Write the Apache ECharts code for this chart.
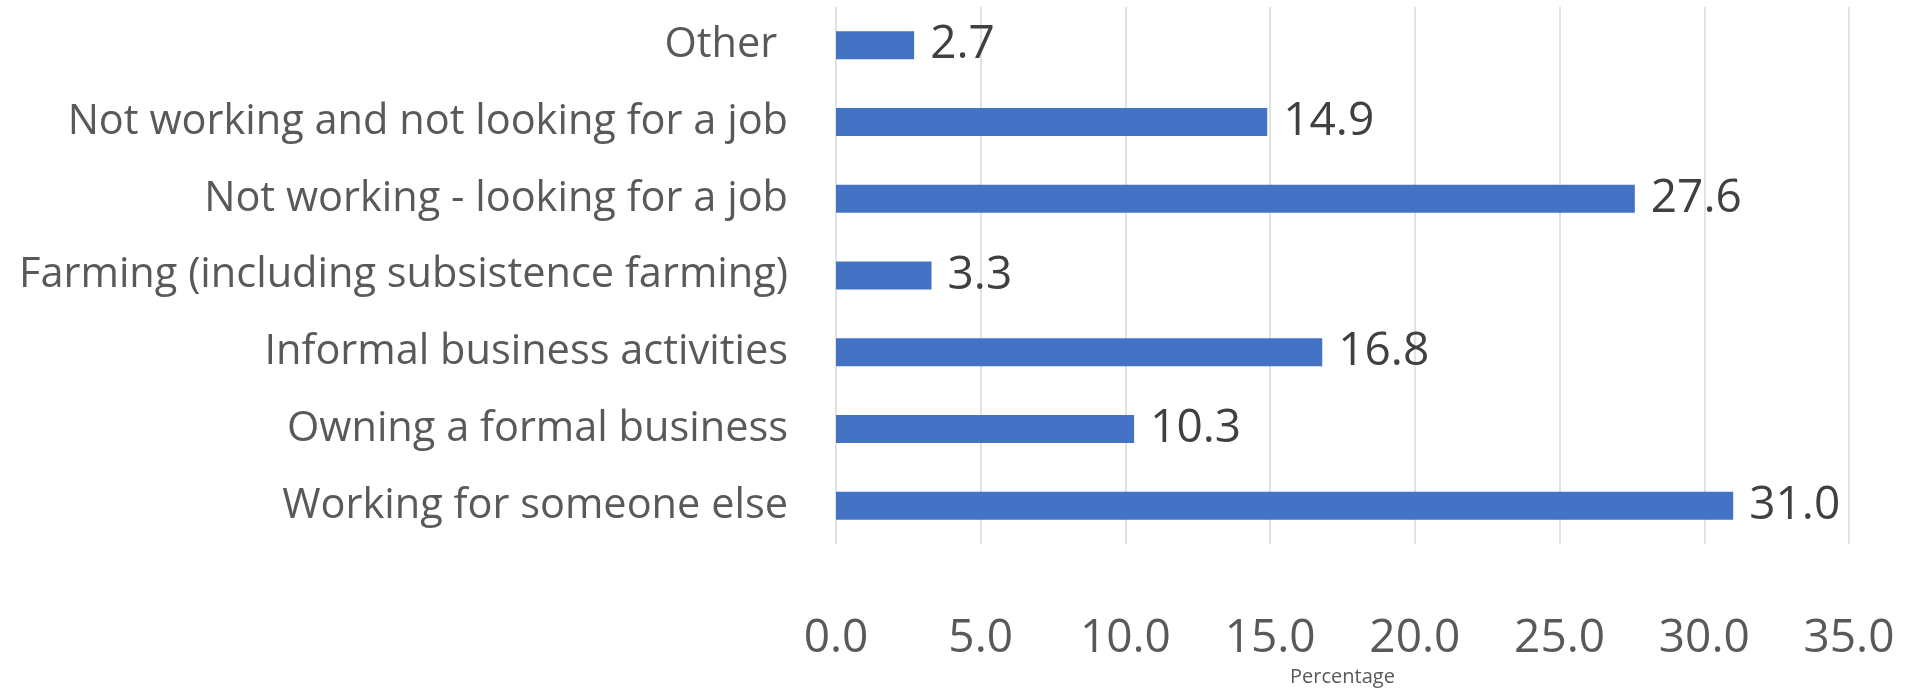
<!DOCTYPE html>
<html><head><meta charset="utf-8">
<script src="https://cdn.jsdelivr.net/npm/echarts@6/dist/echarts.min.js"></script>
<style>html,body{margin:0;padding:0;background:#fff}#c{width:1926px;height:692px}</style>
</head><body><div id="c"></div>
<script>
const categories = [
  "Working for someone else",
  "Owning a formal business",
  "Informal business activities",
  "Farming (including subsistence farming)",
  "Not working - looking for a job",
  "Not working and not looking for a job",
  "Other "
];
const values = [31.0, 10.3, 16.8, 3.3, 27.6, 14.9, 2.7];
const xTicks = { min: 0, max: 35, interval: 5 };
const axisTitle = "Percentage";

const chart = echarts.init(document.getElementById('c'));
chart.setOption({
  animation: false,
  grid: { left: 836, right: 77, top: 7, bottom: 139, containLabel: false },
  xAxis: {
    type: 'value', min: xTicks.min, max: xTicks.max, interval: xTicks.interval,
    name: axisTitle, nameLocation: 'middle', nameGap: 120,
    nameTextStyle: { fontFamily: 'Open Sans', fontSize: 20, color: '#595959' },
    axisLine: { show: false }, axisTick: { show: false },
    axisLabel: { fontFamily: 'Open Sans', fontSize: 46, color: '#595959', margin: 72,
      formatter: v => v.toFixed(1) },
    splitLine: { show: true, lineStyle: { color: '#d9d9d9', width: 1.5 } }
  },
  yAxis: {
    type: 'category', data: categories,
    axisLine: { show: false }, axisTick: { show: false },
    axisLabel: { fontFamily: 'Open Sans', fontSize: 41.5, color: '#595959', margin: 48 }
  },
  series: [{
    type: 'bar', data: values, barWidth: 28,
    itemStyle: { color: '#4472C4' },
    label: { show: true, position: 'right', distance: 16, fontFamily: 'Open Sans',
      fontSize: 46, color: '#404040', formatter: p => p.value.toFixed(1) }
  }]
});
</script></body></html>
